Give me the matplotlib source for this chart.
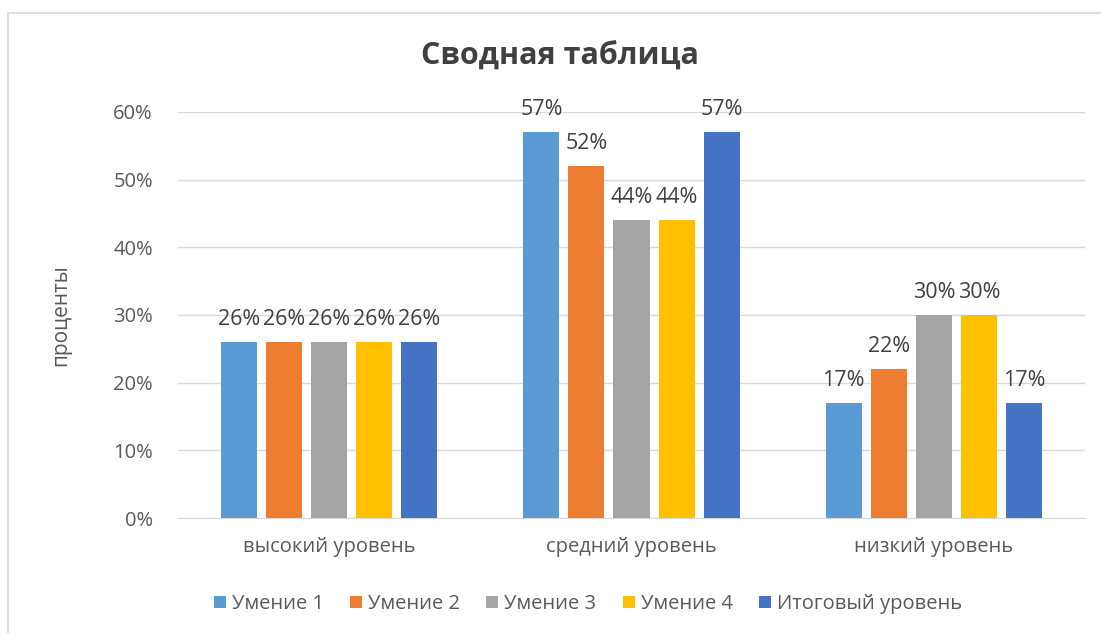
import matplotlib
matplotlib.use("Agg")
import matplotlib.pyplot as plt
import numpy as np
from matplotlib.patches import Rectangle

plt.rcParams['font.family'] = ['Open Sans', 'DejaVu Sans']

categories = ["высокий уровень", "средний уровень", "низкий уровень"]
series_names = ["Умение 1", "Умение 2", "Умение 3", "Умение 4", "Итоговый уровень"]
umenie1 = [0.26, 0.57, 0.17]
umenie2 = [0.26, 0.52, 0.22]
umenie3 = [0.26, 0.44, 0.30]
umenie4 = [0.26, 0.44, 0.30]
itog = [0.26, 0.57, 0.17]
series_values = [umenie1, umenie2, umenie3, umenie4, itog]
colors = ["#5B9BD5", "#ED7D31", "#A5A5A5", "#FFC000", "#4472C4"]
yticks = [0, 0.1, 0.2, 0.3, 0.4, 0.5, 0.6]

fig = plt.figure(figsize=(11.01, 6.33), dpi=100)
fig.patches.append(Rectangle((8/1101, -0.1), 1.2, 1 - 13/633 + 0.1, transform=fig.transFigure,
                             fill=False, edgecolor="#D9D9D9", linewidth=1.2))
ax = fig.add_axes([178/1101, 1 - 518/633, (1085 - 178)/1101, (518 - 112)/633])

x = np.arange(len(categories))
pitch = 45/302
width = 36/302
for i, (name, vals, c) in enumerate(zip(series_names, series_values, colors)):
    pos = x + (i - 2) * pitch
    bars = ax.bar(pos, vals, width, color=c, label=name, zorder=3)
    for b, v in zip(bars, vals):
        ax.annotate(f"{round(v*100)}%", (b.get_x() + b.get_width()/2, v),
                    xytext=(0, 8.5), textcoords="offset points", ha="center", va="bottom",
                    fontsize=15.5, color="#404040", annotation_clip=False)

ax.set_xlim(-0.5, 2.5)
ax.set_ylim(0, 0.6)
ax.set_yticks(yticks)
ax.set_yticklabels([f"{round(t*100)}%" for t in yticks], fontsize=14.5, color="#595959")
ax.set_xticks(x)
ax.set_xticklabels(categories, fontsize=14.5, color="#595959")
ax.tick_params(axis="x", length=0, pad=14)
ax.tick_params(axis="y", length=0, pad=18)
ax.grid(axis="y", color="#D9D9D9", linewidth=1, zorder=0)
for s in ["top", "right", "left"]:
    ax.spines[s].set_visible(False)
ax.spines["bottom"].set_color("#D9D9D9")
ax.set_ylabel("проценты", fontsize=15, color="#595959", labelpad=30)

fig.text(560/1101, 1 - 57/633, "Сводная таблица", ha="center", va="center",
         fontsize=22, fontweight="bold", color="#404040")

fig.legend(loc="center", bbox_to_anchor=(588/1101, 1 - 604/633), ncol=5, frameon=False,
           fontsize=14.5, handlelength=0.6, handleheight=0.6, handletextpad=0.3,
           columnspacing=1.3, labelcolor="#595959")

fig.savefig("out.png", dpi=100)
